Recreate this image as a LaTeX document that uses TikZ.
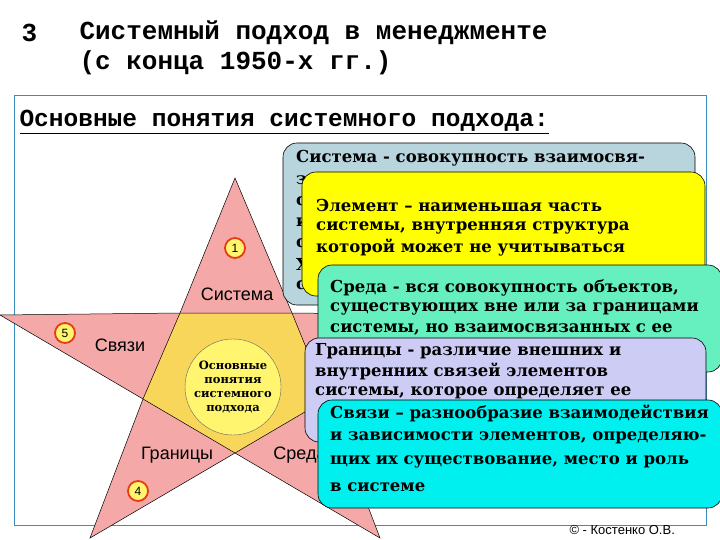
\documentclass[tikz,border=0pt]{standalone}
\usepackage{fontspec}
\setmainfont{DejaVu Serif}
\newfontfamily\monof{Liberation Mono}
\newfontfamily\sansf{Liberation Sans}
\definecolor{cSys}{RGB}{184,212,220}
\definecolor{cEl}{RGB}{255,255,0}
\definecolor{cSr}{RGB}{102,240,192}
\definecolor{cGr}{RGB}{204,204,245}
\definecolor{cSv}{RGB}{0,240,240}
\definecolor{cStar}{RGB}{245,168,168}
\definecolor{cIn}{RGB}{248,214,90}
\definecolor{cCirc}{RGB}{255,245,110}
\definecolor{cFrame}{RGB}{60,140,190}
\definecolor{cNum}{RGB}{230,60,20}
\begin{document}
\begin{tikzpicture}[x=1pt,y=-1pt,
  box/.style={draw=black,rounded corners=14pt,line width=0.6pt},
  bt/.style={anchor=west,font=\bfseries\fontsize{16.5}{18}\selectfont,inner sep=0pt},
  num/.style={circle,draw=cNum,line width=1.8pt,fill=cCirc,minimum size=20pt,inner sep=0pt,font=\sansf\fontsize{12}{12}\selectfont},
  lab/.style={font=\sansf\fontsize{18}{19}\selectfont},
  ttl/.style={anchor=west,font=\monof\bfseries\fontsize{26}{27}\selectfont}]
\useasboundingbox (0,0) rectangle (720,540);
% title
\node[ttl] (n3) at (18,33) {3};
\node[ttl] (t1) at (76,33) {Системный подход в менеджменте};
\node[ttl] (t2) at (76,63) {(с конца 1950-х гг.)};
\draw[cFrame,line width=0.6pt] (14,95) -- (706,95) -- (706,525) -- (14,525) -- cycle;
\node[anchor=west,font=\monof\bfseries\fontsize{24.5}{25}\selectfont] (sub) at (16,122) {\underline{Основные понятия системного подхода:}};
% star
\draw[fill=cStar,line width=0.5pt] (235,178) -- (292,313) -- (470,315) -- (327,399) -- (380,538) -- (235,453) -- (90,538) -- (143,399) -- (0,315) -- (180,313) -- cycle;
\fill[cIn] (180,313) -- (292,313) -- (327,399) -- (235,453) -- (143,399) -- cycle;
\draw[line width=0.5pt] (180,313) -- (292,313) -- (327,399) -- (235,453) -- (143,399) -- cycle;
\node[circle,draw=black!60,fill=cCirc,minimum size=96pt,inner sep=0pt,align=center,font=\bfseries\fontsize{11.5}{14}\selectfont] (c) at (233,387) {Основные\\понятия\\системного\\подхода};
\node[num] (k1) at (235,248) {1};
\node[num] (k5) at (65,333) {5};
\node[num] (k4) at (138,491) {4};
\node[lab] (l1) at (237,294) {Система};
\node[lab] (l5) at (120,345) {Связи};
\node[lab] (l4) at (177,455) {Границы};
\node[lab] (l3) at (300,455) {Среда};
% boxes
\draw[box,fill=cSys] (283,143) rectangle (695,305);
\node[bt] (a0) at (296,158) {Система - совокупность взаимосвя-};
\node[bt] at (296,180) {за}; \node[bt] at (296,201) {с}; \node[bt] at (296,222) {и};
\node[bt] at (296,243) {с}; \node[bt] at (296,264) {Х}; \node[bt] at (296,285) {с};
\draw[box,fill=cEl] (302,172) rectangle (705,296);
\node[bt] (a1) at (316,205) {Элемент – наименьшая часть};
\node[bt] at (316,228) {системы, внутренняя структура};
\node[bt] at (316,248) {которой может не учитываться};
\draw[box,fill=cSr] (318,265) rectangle (722,372);
\node[bt] (a2) at (330,288) {Среда - вся совокупность объектов,};
\node[bt] at (330,309) {существующих вне или за границами};
\node[bt] at (330,329) {системы, но взаимосвязанных с ее};
\draw[box,fill=cGr] (305,338) rectangle (706,442);
\node[bt] (a3) at (315,351) {Границы - различие внешних и};
\node[bt] at (315,372) {внутренних связей элементов};
\node[bt] at (315,393) {системы, которое определяет ее};
\draw[box,fill=cSv] (318,400) rectangle (722,508);
\node[bt] (a4) at (330,413) {Связи – разнообразие взаимодействия};
\node[bt] at (330,438) {и зависимости элементов, определяю-};
\node[bt] at (330,462) {щих их существование, место и роль};
\node[bt] at (330,487) {в системе};
\node[anchor=west,font=\sansf\fontsize{13}{14}\selectfont] (cp) at (566,530) {© - Костенко О.В.};
\end{tikzpicture}
\end{document}
